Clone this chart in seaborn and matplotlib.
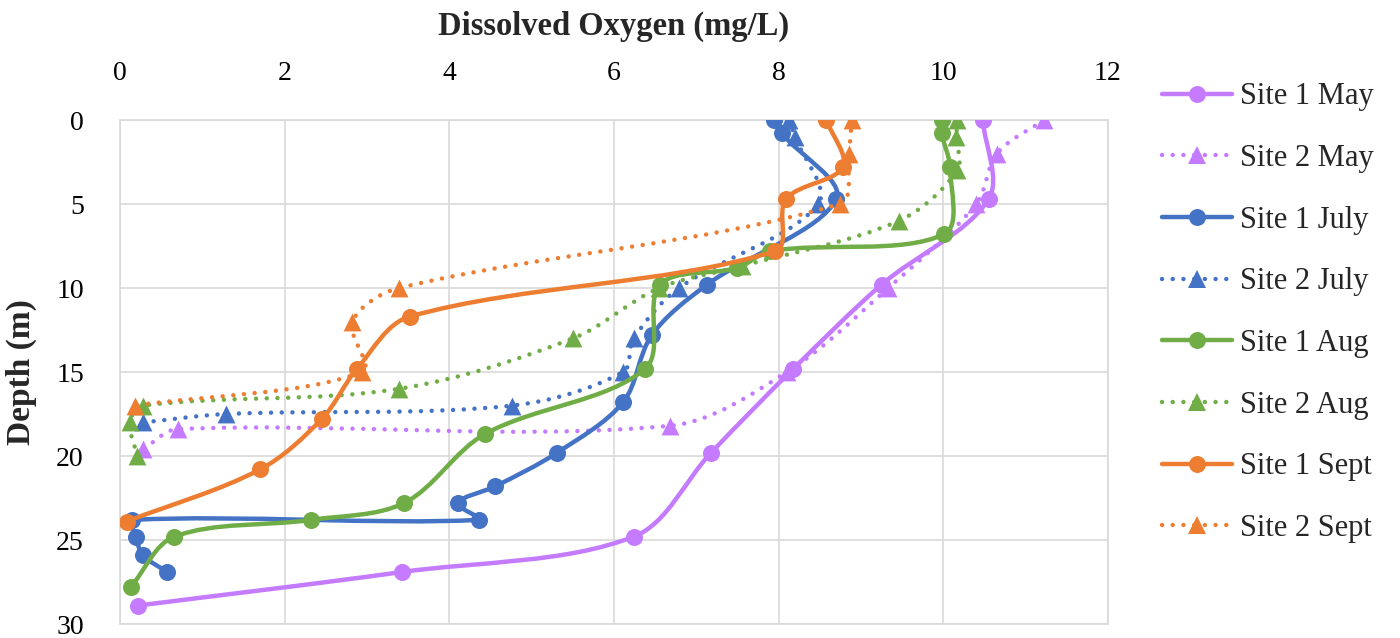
import numpy as np
import pandas as pd
import matplotlib
matplotlib.use("Agg")
import matplotlib.pyplot as plt
import seaborn as sns
from matplotlib.path import Path
from matplotlib.patches import PathPatch
from matplotlib.lines import Line2D

# ---- profile data: dissolved oxygen (mg/L) against depth (m) ----
series_names = ["Site 1 May", "Site 2 May", "Site 1 July", "Site 2 July",
                "Site 1 Aug", "Site 2 Aug", "Site 1 Sept", "Site 2 Sept"]

site1_may_do = [10.48, 10.55, 9.25, 8.18, 7.18, 6.24, 3.43, 0.22]
site1_may_depth = [0, 4.7, 9.8, 14.8, 19.8, 24.8, 26.9, 28.9]

site2_may_do = [11.22, 10.65, 10.40, 9.33, 8.10, 6.68, 0.70, 0.28]
site2_may_depth = [0, 2, 5, 10, 15, 18.2, 18.4, 19.6]

site1_jul_do = [7.94, 8.04, 8.70, 7.13, 6.46, 6.11, 5.31, 4.56, 4.10, 4.36, 0.15, 0.19, 0.28, 0.57]
site1_jul_depth = [0, 0.8, 4.7, 9.8, 12.8, 16.8, 19.8, 21.8, 22.8, 23.8, 23.8, 24.8, 25.9, 26.9]

site2_jul_do = [8.12, 8.20, 8.48, 6.79, 6.24, 6.11, 4.76, 1.29, 0.28]
site2_jul_depth = [0, 1, 5, 10, 13, 15, 17, 17.5, 18]

site1_aug_do = [9.98, 9.98, 10.08, 10.01, 7.90, 7.50, 6.56, 6.38, 4.43, 3.45, 2.32, 0.66, 0.13]
site1_aug_depth = [0, 0.8, 2.8, 6.8, 7.8, 8.8, 9.8, 14.8, 18.7, 22.8, 23.8, 24.8, 27.8]

site2_aug_do = [10.17, 10.16, 10.17, 9.46, 7.55, 6.55, 5.50, 3.39, 0.28, 0.12, 0.21]
site2_aug_depth = [0, 1, 3, 6, 8.7, 10, 13, 16, 17, 18, 20]

site1_sep_do = [8.58, 8.78, 8.09, 7.96, 3.52, 2.88, 2.45, 1.70, 0.08]
site1_sep_depth = [0, 2.8, 4.7, 7.8, 11.7, 14.8, 17.8, 20.8, 23.9]

site2_sep_do = [8.89, 8.85, 8.74, 3.39, 2.82, 2.94, 0.18]
site2_sep_depth = [0, 2, 5, 10, 12, 15, 17]

do_values = [site1_may_do, site2_may_do, site1_jul_do, site2_jul_do,
             site1_aug_do, site2_aug_do, site1_sep_do, site2_sep_do]
depth_values = [site1_may_depth, site2_may_depth, site1_jul_depth, site2_jul_depth,
                site1_aug_depth, site2_aug_depth, site1_sep_depth, site2_sep_depth]

month_colors = ["#C47BFF", "#C47BFF", "#4472C4", "#4472C4",
                "#70AD47", "#70AD47", "#ED7D31", "#ED7D31"]

frames = []
for name, xs, ys in zip(series_names, do_values, depth_values):
    frames.append(pd.DataFrame({"series": name, "do": xs, "depth": ys}))
df = pd.concat(frames, ignore_index=True)

# ---- styling ----
sns.set_theme(style="white")
plt.rcParams["font.family"] = ["Liberation Serif", "DejaVu Serif"]

LW = 3.2
DOT = (0, (0.01, 2.4))
GRID = "#D9D9D9"

fig = plt.figure(figsize=(14, 6.38), dpi=100)
ax = fig.add_axes([0.0857, 0.0219, 0.7057, 0.790])
ax.set_xlim(0, 12)
ax.set_ylim(30, 0)


def smooth_path(ax, xs, ys):
    """Bezier path through the points; tangents are built in screen space
    and weighted by chord length so that short segments do not loop."""
    data = np.column_stack([xs, ys]).astype(float)
    pts = ax.transData.transform(data)
    n = len(pts)
    seg = np.linalg.norm(np.diff(pts, axis=0), axis=1)
    verts = [pts[0]]
    codes = [Path.MOVETO]
    for i in range(n - 1):
        p1, p2 = pts[i], pts[i + 1]
        d12 = seg[i]
        if i > 0:
            d01 = seg[i - 1]
            t1 = (p2 - pts[i - 1]) * d12 / max(d01 + d12, 1e-9) / 3.0
        else:
            t1 = (p2 - p1) / 3.0
        if i + 2 < n:
            d23 = seg[i + 1]
            t2 = (pts[i + 2] - p1) * d12 / max(d12 + d23, 1e-9) / 3.0
        else:
            t2 = (p2 - p1) / 3.0
        verts += [p1 + t1, p2 - t2, p2]
        codes += [Path.CURVE4] * 3
    verts = ax.transData.inverted().transform(np.array(verts))
    return Path(verts, codes)


handles = []
for k, name in enumerate(series_names):
    sub = df[df["series"] == name]
    color = month_colors[k]
    site2 = name.startswith("Site 2")
    ls = DOT if site2 else "-"
    marker = "^" if site2 else "o"
    z = 3 + k * 0.2

    patch = PathPatch(smooth_path(ax, sub["do"].values, sub["depth"].values),
                      facecolor="none", edgecolor=color, lw=LW,
                      linestyle=ls, capstyle="round", joinstyle="round",
                      zorder=z)
    ax.add_patch(patch)

    sns.scatterplot(data=sub, x="do", y="depth", ax=ax, color=color,
                    marker=marker, s=165 if site2 else 150, linewidth=0,
                    zorder=z + 0.1, legend=False)

    handles.append(Line2D([], [], color=color, lw=LW, linestyle=ls,
                          dash_capstyle="round", solid_capstyle="round",
                          marker=marker, markersize=12.8 if site2 else 12.2,
                          markeredgewidth=0, label=name))

ax.set_xlim(0, 12)
ax.set_ylim(30, 0)
ax.set_xticks(np.arange(0, 13, 2))
ax.set_yticks(np.arange(0, 31, 5))
ax.xaxis.tick_top()
ax.xaxis.set_label_position("top")
ax.tick_params(axis="both", length=0, labelsize=20, colors="black")
ax.tick_params(axis="x", pad=24.5)
ax.tick_params(axis="y", pad=26)
ax.grid(True, color=GRID, lw=1.2, zorder=0)
ax.set_axisbelow(True)
for sp in ax.spines.values():
    sp.set_color(GRID)
    sp.set_linewidth(1.2)

ax.set_xlabel("Dissolved Oxygen (mg/L)", fontsize=23.5, fontweight="bold", labelpad=19)
ax.set_ylabel("Depth (m)", fontsize=24, fontweight="bold", labelpad=14)
ax.set_facecolor("white")

fig.legend(handles=handles, loc="upper left", bbox_to_anchor=(0.8298, 0.871),
           frameon=False, fontsize=22, handlelength=2.29, handletextpad=0.26,
           labelspacing=1.07, borderpad=0, borderaxespad=0)

fig.savefig("out.png", dpi=100, facecolor="white")
